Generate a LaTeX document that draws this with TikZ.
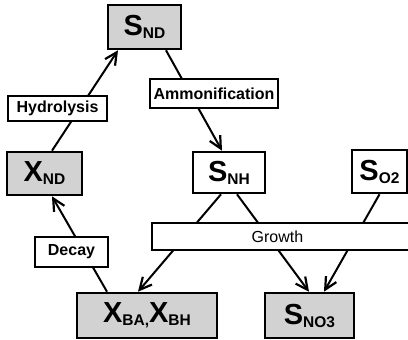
\documentclass[tikz,border=0pt]{standalone}
\usepackage{fontspec}
\setmainfont{Liberation Sans}
\usetikzlibrary{arrows.meta}
\definecolor{scangray}{RGB}{210,210,210}
\newcommand{\bigsym}[1]{{\fontsize{29}{30}\selectfont #1}}
\newcommand{\lowidx}[1]{\raisebox{-3pt}{\fontsize{15.5}{16}\selectfont #1}}
\tikzset{
  state/.style={draw, line width=2.6pt, inner sep=0pt, font=\bfseries},
  shaded/.style={state, fill=scangray},
  process/.style={draw, line width=1.3pt, fill=white, inner sep=0pt, font=\bfseries\fontsize{16}{18}\selectfont},
  flow/.style={line width=2pt, -{Straight Barb[length=12pt,width=12pt,line width=2.2pt]}},
}

\begin{document}
\begin{tikzpicture}[x=1pt, y=-1pt]
  \useasboundingbox (0,0) rectangle (408,340);

  % state variables
  \node [shaded, minimum width=73pt, minimum height=44pt] (snd) at (144.5, 27) {\bigsym{S}\lowidx{ND}};
  \node [shaded, minimum width=75pt, minimum height=43pt] (xnd) at (44.5, 173.5) {\bigsym{X}\lowidx{ND}};
  \node [state, minimum width=72pt, minimum height=41pt] (snh) at (229, 172.5) {\bigsym{S}\lowidx{NH}};
  \node [state, minimum width=55pt, minimum height=43pt] (so2) at (379.5, 171.5) {\bigsym{S}\lowidx{O2}};
  \node [shaded, minimum width=140pt, minimum height=45pt] (xba) at (147, 315.5) {\bigsym{X}\lowidx{BA,}\bigsym{X}\lowidx{BH}};
  \node [shaded, minimum width=89pt, minimum height=45pt] (sno3) at (309.5, 315.5) {\bigsym{S}\lowidx{NO3}};

  % conversions
  \draw [flow] ([xshift=7.5pt]xnd.north) -- ([xshift=-26.5pt]snd.south);
  \draw [flow] ([xshift=21.5pt]snd.south) -- ([xshift=-7pt]snh.north);
  \draw [flow] ([xshift=-40pt]xba.north) -- ([xshift=7.5pt]xnd.south);
  \draw [flow] ([xshift=-8pt]snh.south) -- ([xshift=-9pt]xba.north);
  \draw [flow] ([xshift=8pt]snh.south) -- ([xshift=-0.5pt]sno3.north);
  \draw [flow] (so2.south) -- ([xshift=14.5pt]sno3.north);

  % process labels
  \node [process, minimum width=99pt, minimum height=25pt] (hydro) at (57.5, 108.5) {Hydrolysis};
  \node [process, minimum width=128pt, minimum height=29pt] (ammo) at (214, 93.5) {Ammonification};
  \node [process, minimum width=73pt, minimum height=30pt] (decay) at (71.5, 252) {Decay};
  \node [process, font=\fontsize{16}{18}\selectfont, minimum width=258pt, minimum height=27pt] (growth) at (281, 236.5) {\hspace*{-7pt}Growth};
\end{tikzpicture}
\end{document}
